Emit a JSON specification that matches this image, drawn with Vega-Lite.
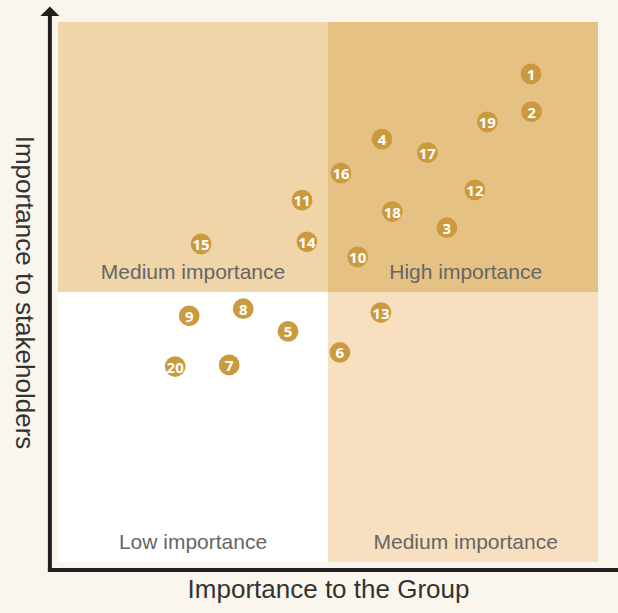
{
  "$schema": "https://vega.github.io/schema/vega-lite/v6.json",
  "width": 540,
  "height": 540,
  "autosize": {"type": "none"},
  "padding": {"left": 58, "top": 22, "right": 20, "bottom": 51},
  "background": "#fbf6ed",
  "config": {"view": {"stroke": null}},
  "datasets": {
    "quadrants": [
      {"quadrant": "TL", "x0": 0, "x1": 5, "y0": 5, "y1": 10},
      {"quadrant": "TR", "x0": 5, "x1": 10, "y0": 5, "y1": 10},
      {"quadrant": "BL", "x0": 0, "x1": 5, "y0": 0, "y1": 5},
      {"quadrant": "BR", "x0": 5, "x1": 10, "y0": 0, "y1": 5}
    ],
    "labels": [
      {"label": "Medium importance", "x": 2.5, "y": 5.25},
      {"label": "High importance", "x": 7.55, "y": 5.25},
      {"label": "Low importance", "x": 2.5, "y": 0.24},
      {"label": "Medium importance", "x": 7.55, "y": 0.24}
    ],
    "axes": [
      {"x": -0.15, "x2": -0.15, "y": -0.15, "y2": 10.1},
      {"x": -0.15, "x2": 10.5, "y": -0.15, "y2": -0.15}
    ],
    "arrow": [{"x": -0.15, "y": 10.2}],
    "topics": [
      {"id": 1, "x": 8.76, "y": 9.04},
      {"id": 2, "x": 8.77, "y": 8.34},
      {"id": 3, "x": 7.2, "y": 6.19},
      {"id": 4, "x": 6.0, "y": 7.83},
      {"id": 5, "x": 4.26, "y": 4.27},
      {"id": 6, "x": 5.22, "y": 3.88},
      {"id": 7, "x": 3.17, "y": 3.65},
      {"id": 8, "x": 3.43, "y": 4.69},
      {"id": 9, "x": 2.43, "y": 4.56},
      {"id": 10, "x": 5.55, "y": 5.65},
      {"id": 11, "x": 4.52, "y": 6.7},
      {"id": 12, "x": 7.72, "y": 6.89},
      {"id": 13, "x": 5.98, "y": 4.62},
      {"id": 14, "x": 4.61, "y": 5.93},
      {"id": 15, "x": 2.65, "y": 5.89},
      {"id": 16, "x": 5.24, "y": 7.2},
      {"id": 17, "x": 6.84, "y": 7.58},
      {"id": 18, "x": 6.19, "y": 6.49},
      {"id": 19, "x": 7.95, "y": 8.15},
      {"id": 20, "x": 2.17, "y": 3.62}
    ]
  },
  "layer": [
    {
      "data": {"name": "quadrants"},
      "mark": {"type": "rect"},
      "encoding": {
        "x": {
          "field": "x0", "type": "quantitative",
          "scale": {"domain": [0, 10], "nice": false, "zero": false},
          "axis": {
            "title": "Importance to the Group",
            "domain": false, "ticks": false, "labels": false, "grid": false,
            "titleFont": "Liberation Sans", "titleFontSize": 26, "titleFontWeight": "normal",
            "titleColor": "#333333", "titlePadding": 14
          }
        },
        "x2": {"field": "x1"},
        "y": {
          "field": "y0", "type": "quantitative",
          "scale": {"domain": [0, 10], "nice": false, "zero": false},
          "axis": {
            "title": "Importance to stakeholders",
            "domain": false, "ticks": false, "labels": false, "grid": false,
            "titleFont": "Liberation Sans", "titleFontSize": 26, "titleFontWeight": "normal",
            "titleColor": "#333333", "titleAngle": 90, "titleBaseline": "top", "titlePadding": 22
          }
        },
        "y2": {"field": "y1"},
        "color": {
          "field": "quadrant", "type": "nominal",
          "scale": {"domain": ["TL", "TR", "BL", "BR"], "range": ["#f0d5a9", "#e5c284", "#ffffff", "#f7dfbf"]},
          "legend": null
        }
      }
    },
    {
      "data": {"name": "labels"},
      "mark": {"type": "text", "font": "Liberation Sans", "fontSize": 21, "color": "#666666", "baseline": "alphabetic", "align": "center"},
      "encoding": {
        "x": {"field": "x", "type": "quantitative"},
        "y": {"field": "y", "type": "quantitative"},
        "text": {"field": "label"}
      }
    },
    {
      "data": {"name": "axes"},
      "mark": {"type": "rule", "color": "#231f20", "strokeWidth": 4, "strokeCap": "square"},
      "encoding": {
        "x": {"field": "x", "type": "quantitative"},
        "x2": {"field": "x2"},
        "y": {"field": "y", "type": "quantitative"},
        "y2": {"field": "y2"}
      }
    },
    {
      "data": {"name": "arrow"},
      "mark": {"type": "point", "shape": "M-1,0.5L0,-0.5L1,0.5Z", "size": 361, "filled": true, "color": "#231f20", "opacity": 1},
      "encoding": {
        "x": {"field": "x", "type": "quantitative"},
        "y": {"field": "y", "type": "quantitative"}
      }
    },
    {
      "data": {"name": "topics"},
      "mark": {"type": "circle", "size": 430, "color": "#cb9a3f", "opacity": 1},
      "encoding": {
        "x": {"field": "x", "type": "quantitative"},
        "y": {"field": "y", "type": "quantitative"}
      }
    },
    {
      "data": {"name": "topics"},
      "mark": {"type": "text", "font": "Open Sans", "fontSize": 15, "fontWeight": "bold", "color": "#ffffff", "baseline": "middle", "align": "center", "dy": 1},
      "encoding": {
        "x": {"field": "x", "type": "quantitative"},
        "y": {"field": "y", "type": "quantitative"},
        "text": {"field": "id", "type": "nominal"}
      }
    }
  ]
}
